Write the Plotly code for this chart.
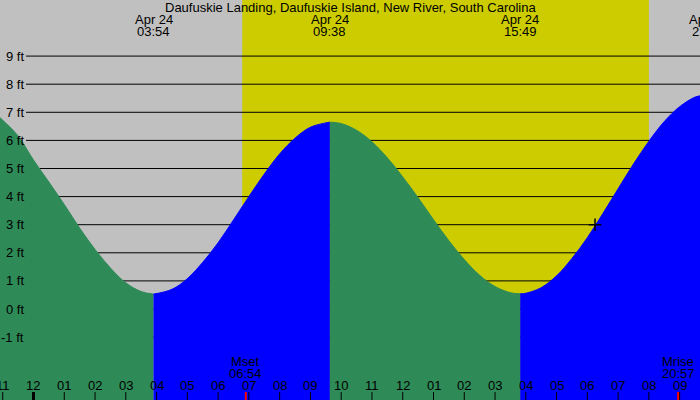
import plotly.graph_objects as go

TITLE = "Daufuskie Landing, Daufuskie Island, New River, South Carolina"
DATE_LABEL = "Apr 24"

# tide curve (hours after midnight Apr 24, feet)
tide_hours = [-1.1, -1.0, -0.5, 0.0, 0.5, 1.0, 1.5, 2.0, 2.5, 3.0, 3.5, 3.9,
              4.5, 5.0, 5.5, 6.0, 6.5, 7.0, 7.5, 8.0, 8.5, 9.0, 9.6333,
              10.0, 10.5, 11.0, 11.5, 12.0, 12.5, 13.0, 13.5, 14.0, 14.5, 15.0, 15.5, 15.8167,
              16.0, 16.5, 17.0, 17.5, 18.0, 18.5, 19.0, 19.5, 20.0, 20.5, 21.0, 21.5, 21.75]
tide_ft = [6.82, 6.72, 6.16, 5.30, 4.52, 3.72, 2.88, 2.12, 1.46, 0.93, 0.62, 0.53,
           0.70, 1.08, 1.66, 2.36, 3.17, 4.00, 4.80, 5.52, 6.08, 6.47, 6.65,
           6.60, 6.36, 5.95, 5.38, 4.70, 3.96, 3.18, 2.43, 1.76, 1.20, 0.80, 0.58, 0.54,
           0.56, 0.76, 1.18, 1.80, 2.54, 3.39, 4.28, 5.16, 5.97, 6.67, 7.20, 7.54, 7.60]

extreme_times = ["03:54", "09:38", "15:49", "21:56"]
sunrise, sunset = "06:47", "20:00"
moon_labels = ["Mset", "Mrise"]
moon_times = ["06:54", "20:57"]

hour_ticks = list(range(-1, 22))
hour_tick_labels = ["11", "12", "01", "02", "03", "04", "05", "06", "07", "08", "09", "10",
                    "11", "12", "01", "02", "03", "04", "05", "06", "07", "08", "09"]
ft_ticks = [-1, 0, 1, 2, 3, 4, 5, 6, 7, 8, 9]
now_hour, now_ft = [18.25], [3.0]

X_RANGE = [-1.0887, 21.661]
Y_RANGE = [-3.238, 10.996]

GRAY = "#C0C0C0"
YELLOW = "#CCCC00"
GREEN = "#2E8B57"
BLUE = "#0000FF"
FONT = "Liberation Sans, Arial, sans-serif"
FS = 13


def hm(s):
    h, m = s.split(":")
    return int(h) + int(m) / 60.0


def xpaper(h):
    return (h - X_RANGE[0]) / (X_RANGE[1] - X_RANGE[0])


fig = go.Figure()

ext_h = [hm(t) for t in extreme_times]
bounds = [-1e9] + ext_h + [1e9]
colors = [GREEN, BLUE]
for i in range(len(bounds) - 1):
    seg = [(t, v) for t, v in zip(tide_hours, tide_ft)
           if bounds[i] - 1e-3 <= t <= bounds[i + 1] + 1e-3]
    if len(seg) < 2:
        continue
    xs = [s[0] for s in seg]
    ys = [s[1] for s in seg]
    col = colors[i % 2]
    fig.add_trace(go.Scatter(x=xs, y=[Y_RANGE[0]] * len(xs), mode="lines",
                             line=dict(width=0), showlegend=False, hoverinfo="skip"))
    fig.add_trace(go.Scatter(x=xs, y=ys, mode="lines", fill="tonexty", fillcolor=col,
                             line=dict(width=1, color=col, shape="spline", smoothing=1),
                             showlegend=False, hoverinfo="skip"))

fig.add_trace(go.Scatter(x=now_hour, y=now_ft, mode="markers",
                         marker=dict(symbol="cross-thin", size=9,
                                     line=dict(width=1.5, color="black")),
                         showlegend=False, hoverinfo="skip"))

shapes = []
shapes.append(dict(type="rect", xref="x", yref="paper", x0=hm(sunrise), x1=hm(sunset),
                   y0=0, y1=1, fillcolor=YELLOW, line=dict(width=0), layer="below"))
for v in ft_ticks:
    shapes.append(dict(type="line", xref="paper", yref="y", x0=26 / 700, x1=1, y0=v, y1=v,
                       line=dict(color="black", width=1), layer="below"))
for h in hour_ticks:
    shapes.append(dict(type="line", xref="x", yref="paper", x0=h, x1=h, y0=0, y1=8 / 400,
                       line=dict(color="black", width=3 if h == 0 else 1), layer="above"))
for t in moon_times:
    shapes.append(dict(type="line", xref="x", yref="paper", x0=hm(t), x1=hm(t), y0=0, y1=8 / 400,
                       line=dict(color="red", width=2), layer="above"))


def txt(text, x, y, xanchor="center", xref="paper", yref="paper"):
    return dict(text=text, xref=xref, yref=yref, x=x, y=y, xanchor=xanchor,
                yanchor="middle", showarrow=False, borderpad=0,
                font=dict(size=FS, color="black", family=FONT))


ann = [txt(TITLE, 0.5, (400 - 7.5) / 400)]
for t in extreme_times:
    px = xpaper(hm(t))
    ann.append(txt(DATE_LABEL, px, (400 - 19.5) / 400))
    ann.append(txt(t, px, (400 - 31.5) / 400))
for v in ft_ticks:
    ann.append(txt(f"{v} ft", 24.5 / 700, v, xanchor="right", yref="y"))
for h, lab in zip(hour_ticks, hour_tick_labels):
    ann.append(txt(lab, xpaper(h), (400 - 385.5) / 400))
for lab, t in zip(moon_labels, moon_times):
    px = xpaper(hm(t))
    ann.append(txt(lab, px, (400 - 361.5) / 400))
    ann.append(txt(t, px, (400 - 373.5) / 400))

fig.update_layout(
    width=700, height=400, margin=dict(l=0, r=0, t=0, b=0),
    plot_bgcolor=GRAY, paper_bgcolor=GRAY,
    xaxis=dict(range=X_RANGE, visible=False, fixedrange=True),
    yaxis=dict(range=Y_RANGE, visible=False, fixedrange=True),
    shapes=shapes, annotations=ann, showlegend=False,
)

fig.write_html("out.html")
